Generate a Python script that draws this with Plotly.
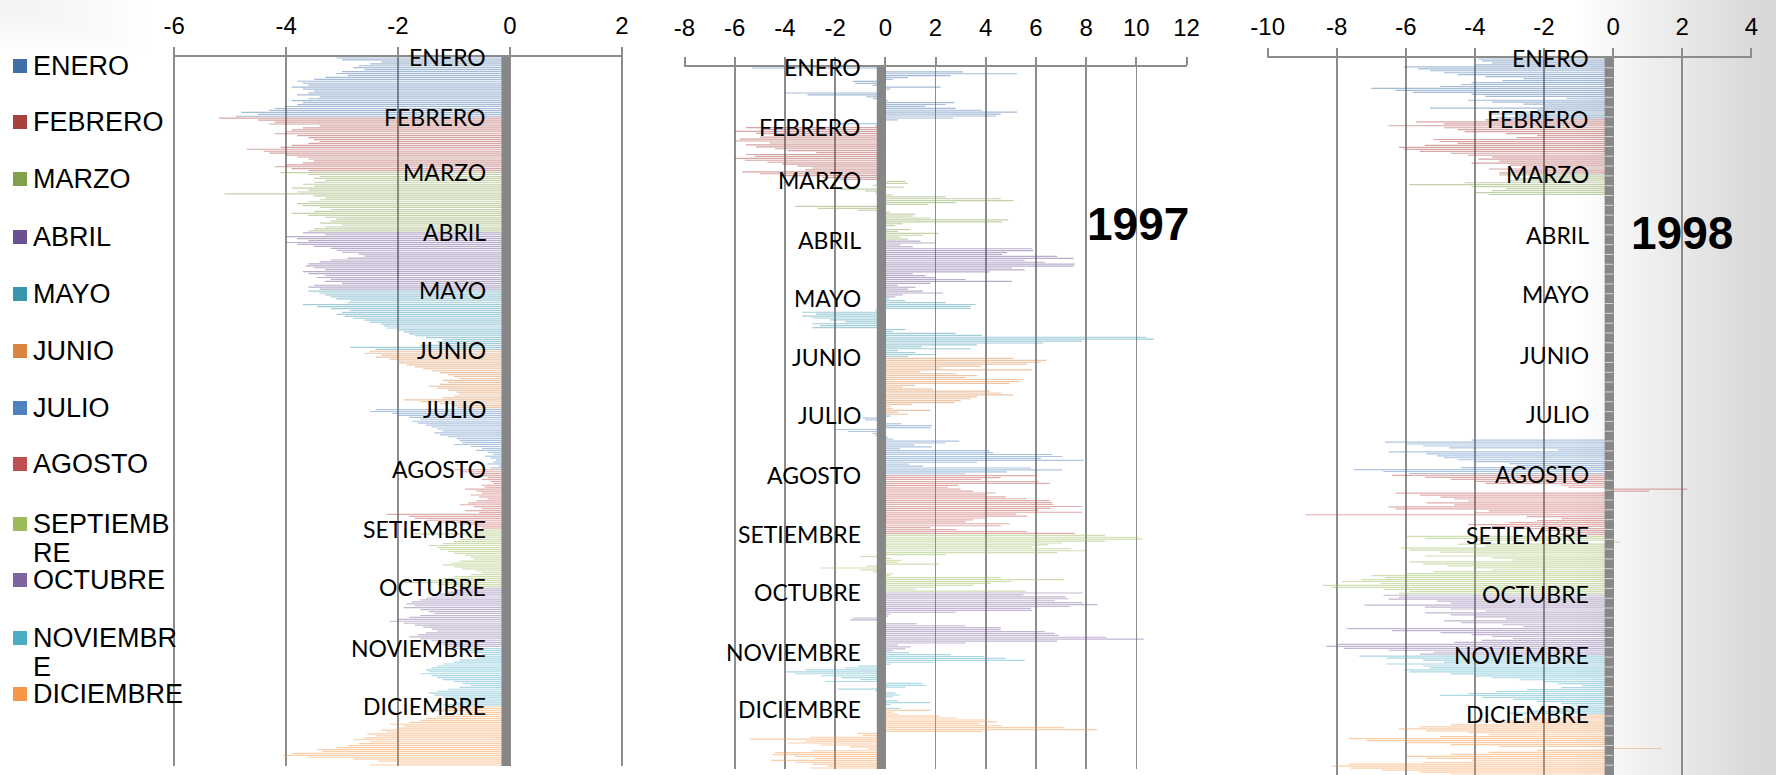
import plotly.graph_objects as go

# ---------------- DATA ----------------
MONTHS_AXIS = ["ENERO", "FEBRERO", "MARZO", "ABRIL", "MAYO", "JUNIO", "JULIO",
               "AGOSTO", "SETIEMBRE", "OCTUBRE", "NOVIEMBRE", "DICIEMBRE"]
MONTHS_LEGEND = ["ENERO", "FEBRERO", "MARZO", "ABRIL", "MAYO", "JUNIO", "JULIO",
                 "AGOSTO", "SEPTIEMBRE", "OCTUBRE", "NOVIEMBRE", "DICIEMBRE"]
MONTH_DAYS = [31, 28, 31, 30, 31, 30, 31, 31, 30, 31, 30, 31]
YEAR_LABELS = ["", "1997", "1998"]
TICKS_P1 = [-6, -4, -2, 0, 2]
TICKS_P2 = [-8, -6, -4, -2, 0, 2, 4, 6, 8, 10, 12]
TICKS_P3 = [-10, -8, -6, -4, -2, 0, 2, 4]

# Panel 1 (left)
p1_ene = [-3.1, -3.0, -2.3, -2.5, -2.7, -2.8, -2.6, -3.0, -3.1, -2.9, -3.3, -3.5, -3.8, -3.7, -3.6, -3.9, -3.7, -3.5, -3.6, -3.8, -3.4, -3.6, -3.9, -3.7, -3.8, -4.0, -4.2, -4.3, -4.8, -4.5, -4.9]
p1_feb = [-5.2, -4.5, -4.2, -4.3, -3.4, -3.7, -3.9, -4.0, -4.2, -3.8, -3.6, -3.5, -3.4, -3.6, -3.9, -4.1, -4.7, -4.4, -4.3, -4.0, -3.8, -3.6, -3.5, -3.7, -4.0, -4.2, -3.9, -3.6]
p1_mar = [-4.1, -3.6, -3.4, -3.5, -3.3, -3.5, -3.7, -3.5, -3.9, -3.6, -3.8, -5.1, -3.5, -3.3, -3.4, -3.6, -3.8, -3.7, -3.4, -3.2, -3.5, -3.9, -3.6, -3.3, -3.1, -3.2, -3.4, -3.0, -3.3, -3.5, -3.6]
p1_abr = [-3.7, -3.3, -4.0, -3.8, -3.6, -4.0, -3.8, -3.5, -3.2, -3.1, -3.0, -2.7, -2.6, -2.9, -3.2, -3.4, -3.6, -3.65, -3.5, -3.3, -3.7, -3.6, -3.3, -3.45, -3.2, -3.3, -3.0, -3.5, -3.6, -3.4]
p1_may = [-3.6, -3.4, -3.3, -3.2, -3.1, -2.85, -2.9, -3.7, -3.45, -3.2, -2.85, -3.0, -3.1, -2.95, -2.8, -2.6, -2.5, -2.3, -2.25, -2.2, -2.0, -1.9, -1.8, -1.7, -1.5, -1.2, -1.3, -1.25, -1.6, -2.85, -2.4]
p1_jun = [-2.5, -2.6, -2.3, -2.4, -2.15, -2.0, -2.0, -1.85, -1.7, -1.55, -1.4, -1.25, -1.1, -1.0, -0.9, -1.2, -1.1, -1.25, -1.45, -1.3, -1.1, -0.95, -0.9, -1.0, -1.2, -1.9, -1.6, -1.25, -1.0, -0.95]
p1_jul = [-2.4, -2.5, -2.1, -2.0, -1.8, -1.6, -1.75, -1.65, -1.5, -1.4, -1.3, -1.2, -1.35, -1.25, -1.1, -0.95, -0.9, -0.85, -1.0, -0.7, -0.5, -0.6, -0.4, -0.3, -0.45, -0.35, -0.25, -0.3, -0.4, -0.2, -0.35]
p1_ago = [-1.0, -0.85, -0.7, -0.6, -0.4, -0.5, -0.35, -0.3, -0.5, -0.45, -0.8, -0.6, -0.5, -0.7, -0.55, -0.4, -0.6, -0.75, -0.9, -0.65, -0.5, -0.8, -0.55, -2.2, -1.8, -1.7, -1.5, -1.3, -0.9, -0.6, -0.5]
p1_sep = [-0.5, -0.6, -1.7, -0.8, -0.7, -0.9, -1.0, -1.2, -1.45, -1.3, -1.25, -1.1, -1.0, -0.8, -0.7, -0.65, -0.9, -1.05, -1.2, -1.0, -0.85, -0.6, -0.5, -0.7, -1.0, -1.2, -1.7, -1.9, -1.3, -1.0]
p1_oct = [-0.9, -1.0, -1.1, -1.25, -1.4, -1.5, -1.6, -1.75, -1.85, -1.7, -1.9, -1.6, -1.45, -1.35, -1.6, -1.8, -2.0, -2.15, -1.9, -1.7, -1.55, -1.4, -1.3, -1.5, -1.65, -1.8, -1.6, -1.4, -1.3, -1.2, -1.1]
p1_nov = [-1.1, -0.85, -0.7, -0.5, -0.45, -0.6, -0.9, -1.0, -1.2, -1.3, -1.4, -1.5, -1.45, -1.6, -1.4, -1.3, -1.2, -1.0, -0.85, -0.7, -0.9, -1.1, -1.3, -1.45, -1.35, -1.2, -1.0, -0.9, -1.0, -1.2]
p1_dic = [-1.1, -1.2, -1.4, -0.8, -0.95, -1.3, -1.5, -1.6, -1.8, -2.15, -1.9, -2.0, -2.3, -2.2, -2.55, -2.4, -2.6, -2.8, -2.5, -2.7, -2.9, -3.1, -3.45, -3.35, -3.9, -4.05, -3.6, -2.8, -2.35, -2.0, -2.5]

# Panel 2 (1997)
p2_ene = [-5.3, -0.3, 3.1, 5.25, 2.6, 0.9, 0.3, -1.3, -1.2, -0.5, 2.2, 0.2, -0.2, -4.0, -3.1, -0.75, -0.5, 0.1, 2.75, 2.4, 1.6, 2.8, 3.85, 5.25, 4.6, 4.4, 2.7, 0.5, -0.2, -2.0, -0.4]
p2_feb = [-5.55, -4.85, -6.0, -5.15, -4.3, -5.0, -5.8, -6.0, -4.6, -5.55, -5.15, -4.4, -3.9, -2.75, -5.55, -5.2, -6.0, -5.6, -4.7, -4.1, -3.5, -2.9, -3.2, -5.7, -5.0, -4.2, -2.5, -1.8]
p2_mar = [0.8, 0.9, -0.5, 0.75, -1.8, -0.8, -0.4, 0.3, 2.4, 4.6, 5.1, 2.8, 1.7, -3.6, -2.7, -1.1, 0.2, 1.2, 1.1, 1.8, 4.9, 4.65, 0.7, 0.4, -0.3, 1.0, 0.5, 2.1, 1.5, 0.6, 0.9]
p2_abr = [1.4, 2.0, 0.6, 1.1, 5.85, 5.9, 4.85, 4.65, 6.85, 7.5, 5.55, 6.35, 7.55, 7.5, 5.05, 5.55, 4.15, 1.1, 1.6, 2.0, 3.2, 5.05, 1.8, 0.5, 1.2, 0.9, 1.5, 2.3, 0.7, 0.4]
p2_may = [0.15, 0.8, 2.4, 3.6, 3.4, 3.4, -0.4, -3.3, -2.75, -3.3, -2.9, -2.2, -1.6, -2.9, -2.6, -2.9, 0.8, 0.3, 2.8, 3.85, 10.4, 10.7, 7.85, 6.3, 3.65, 1.45, 3.4, 0.5, 1.2, 2.0, 0.9]
p2_jun = [5.1, 6.4, 6.2, 5.65, 3.8, 2.2, 5.85, 1.4, 2.85, 3.65, 3.2, 5.5, 5.35, 4.95, 1.2, 0.7, 1.9, 4.15, 4.6, 5.1, 3.65, 3.4, 3.0, 2.75, 1.05, 0.2, 0.3, 1.8, 0.5, 0.9]
p2_jul = [0.2, -0.9, -0.8, -0.2, 0.65, 1.85, 1.8, -2.0, -1.5, -0.5, -0.4, 0.1, 0.3, 2.95, 2.4, 1.15, 1.85, 0.6, 4.15, 4.3, 6.65, 7.05, 6.2, 7.9, 3.65, 0.95, 1.5, 5.8, 7.05, 4.85, 3.2]
p2_ago = [6.05, 4.6, 3.8, 6.1, 6.55, 2.9, 2.5, 3.0, 3.5, 4.4, 4.0, 4.8, 5.65, 6.55, 6.65, 6.7, 7.85, 6.6, 6.1, 7.85, 5.2, 5.65, 4.0, 3.5, 3.2, 4.95, 4.6, 1.8, 2.85, 5.65, 7.55]
p2_sep = [8.75, 10.1, 10.25, 8.75, 7.05, 6.5, 5.85, 7.4, 8.0, 6.85, 2.4, -1.0, 0.25, 0.65, 0.5, 2.15, -0.75, -2.55, -1.0, -0.5, 0.3, 0.2, 4.6, 7.1, 5.0, 4.2, 3.5, 2.0, 1.2, 5.6]
p2_oct = [7.85, 5.5, 7.2, 7.3, 6.75, 7.85, 8.45, 7.35, 5.8, 5.85, 2.8, 0.2, 0.1, -1.3, -1.4, -0.3, 1.25, 3.2, 4.6, 4.6, 6.35, 6.75, 6.9, 8.8, 10.3, 6.85, 3.2, 0.5, 1.0, 0.8, 0.3]
p2_nov = [0.95, 2.6, 3.95, 4.8, 5.55, 1.95, 0.2, -1.1, -1.6, -3.2, -3.95, -3.6, -2.55, -1.75, -1.0, -2.4, 1.45, 1.6, 0.8, -1.9, -0.4, 0.4, 0.6, 0.3, -0.2, 0.5, 1.8, 0.2, -0.3, 0.6]
p2_dic = [1.8, 0.3, 0.5, 2.15, 2.85, 4.05, 4.45, 3.75, 4.65, 7.1, 8.45, 3.85, -1.1, -0.9, -3.0, -5.4, -3.15, -3.9, -2.6, -1.4, -0.7, -2.9, -4.4, -4.5, -3.6, -2.8, -4.55, -3.6, -2.9, -2.3, -3.0]

# Panel 3 (1998)
p3_ene = [-3.9, -3.8, -3.5, -4.0, -6.05, -5.65, -5.3, -4.9, -4.5, -3.7, -2.6, -3.2, -4.1, -4.4, -5.0, -7.0, -6.3, -5.8, -4.1, -3.7, -1.35, -4.2, -3.5, -2.6, -2.0, -5.3, -2.2, -3.1, -3.6, -2.8, -3.4]
p3_feb = [-3.7, -5.7, -4.9, -6.5, -4.9, -4.5, -4.3, -3.1, -2.2, -2.8, -5.2, -5.0, -4.5, -5.45, -6.2, -6.05, -5.6, -4.7, -4.2, -3.5, -3.9, -3.3, -4.1, -3.0, -2.6, -3.6, -2.9, -3.3]
p3_mar = [-3.3, -2.2, -2.8, -3.0, -4.3, -5.9, -4.1, -3.1, -3.5, -4.0, -3.6]
p3_abr = []
p3_may = []
p3_jun = []
p3_jul = [None, None, None, None, None, None, None, None, None, None, None, None, None,
          -4.1, -6.6, -6.0, -5.5, -4.75, -1.6, -6.5, -5.4, -5.1, -4.9, -4.5, -4.0, -3.0, -2.8, -4.4, -7.5, -6.65, -5.9]
p3_ago = [-6.4, -5.45, -4.7, -4.0, -3.7, -1.5, -1.3, 2.15, 1.05, -6.3, -5.6, -5.0, -4.6, -4.2, -5.4, -4.6, -6.5, -6.3, -3.6, -4.0, -8.9, -2.5, -1.5, -2.2, -3.0, -4.2, -3.5, -2.8, -2.0, -1.2, -1.6]
p3_sep = [-6.0, -5.45, -4.0, 0.2, -4.5, -3.7, -6.15, -5.9, -5.0, -4.0, -5.45, -3.5, -2.9, -5.9, -5.5, -4.8, -4.0, -3.5, -5.2, -6.0, -7.0, -6.6, -7.3, -7.85, -6.75, -8.4, -8.15, -6.65, -5.9, -6.2]
p3_oct = [-6.65, -6.2, -6.5, -5.1, -4.7, -7.2, -5.45, -4.7, -3.7, -5.45, -4.7, -4.0, -3.1, -4.9, -4.4, -3.2, -2.6, -7.7, -6.4, -5.0, -4.1, -3.5, -2.9, -3.8, -4.6, -7.95, -8.3, -7.8, -6.5, -5.2, -5.6]
p3_nov = [-7.35, -6.55, -5.5, -4.9, -6.55, -5.5, -5.3, -6.05, -5.9, -4.7, -4.0, -3.5, -2.7, -2.0, -1.6, -0.9, -1.5, -2.5, -3.4, -4.2, -5.0, -3.8, -2.9, -2.2, -1.5, -1.2, -0.9, -1.6, -2.4, -3.0]
p3_dic = [-0.9, -1.5, -2.6, -3.9, -3.3, -4.7, -5.6, -6.2, -5.4, -4.2, -3.6, -5.0, -7.65, -7.15, -6.0, -4.7, -3.3, 1.4, -2.2, -3.6, -4.7, -6.0, -5.4, -4.1, -5.5, -7.65, -8.15, -7.6, -6.7, -5.6, -4.7]

PANEL1 = [p1_ene, p1_feb, p1_mar, p1_abr, p1_may, p1_jun, p1_jul, p1_ago, p1_sep, p1_oct, p1_nov, p1_dic]
PANEL2 = [p2_ene, p2_feb, p2_mar, p2_abr, p2_may, p2_jun, p2_jul, p2_ago, p2_sep, p2_oct, p2_nov, p2_dic]
PANEL3 = [p3_ene, p3_feb, p3_mar, p3_abr, p3_may, p3_jun, p3_jul, p3_ago, p3_sep, p3_oct, p3_nov, p3_dic]

# ---------------- STYLE ----------------
W, H = 1776, 775
LEGEND_COLORS = ["#3F6EA8", "#A8403D", "#80A04A", "#6A5090", "#3A95AE", "#D9843F",
                 "#4F81BD", "#C0504D", "#9BBB59", "#8064A2", "#4BACC6", "#F79646"]
BAR_ALPHA = 0.47
GRID = "#8c8c8c"
ARIAL = "Arial, Liberation Sans, sans-serif"
LABEL_FONT = "Lato, Open Sans, sans-serif"
EPS = 0.02


def rgba(hexc, a):
    h = hexc.lstrip("#")
    return "rgba(%d,%d,%d,%.2f)" % (int(h[0:2], 16), int(h[2:4], 16), int(h[4:6], 16), a)


month_start = []
acc = 0
for d in MONTH_DAYS:
    month_start.append(acc)
    acc += d

# panel geometry (pixels)
panels = [
    dict(data=PANEL1, ticks=TICKS_P1, px=(173, 623), py=(57, 766), standoff=3, axis_ticks=0),
    dict(data=PANEL2, ticks=TICKS_P2, px=(684, 1187), py=(67, 769), standoff=11, axis_ticks=0),
    dict(data=PANEL3, ticks=TICKS_P3, px=(1267, 1752), py=(58, 776), standoff=3, axis_ticks=5),
]

fig = go.Figure()
shapes = []
annotations = []

# subtle grey slide background: smooth fade at the right edge and top-left corner
N_FADE = 40
for i in range(N_FADE):
    w = 200 - i * 4.8
    shapes.append(dict(type="rect", xref="paper", yref="paper", x0=1 - w / W, x1=1,
                       y0=0, y1=1, fillcolor="rgba(0,0,0,0.0021)", line=dict(width=0), layer="below"))
for i in range(12):
    w = 150 - i * 11
    h = 55 - i * 4
    shapes.append(dict(type="rect", xref="paper", yref="paper", x0=0, x1=w / W,
                       y0=1 - h / H, y1=1, fillcolor="rgba(0,0,0,0.004)",
                       line=dict(width=0), layer="below"))

for k, p in enumerate(panels):
    sfx = "" if k == 0 else str(k + 1)
    xa, ya = "x" + sfx, "y" + sfx
    for m, vals in enumerate(p["data"]):
        ys, xs = [], []
        for i, v in enumerate(vals):
            if v is None:
                continue
            ys.append(month_start[m] + i + 0.5)
            xs.append(v)
        fig.add_trace(go.Bar(
            x=xs, y=ys, orientation="h", width=0.6, xaxis=xa, yaxis=ya,
            marker=dict(color=rgba(LEGEND_COLORS[m], BAR_ALPHA), line=dict(width=0)),
            showlegend=False, hoverinfo="x+y"))

    tv = p["ticks"]
    x0, x1 = p["px"][0] / W, p["px"][1] / W
    y0, y1 = 1 - p["py"][1] / H, 1 - p["py"][0] / H
    y0 = max(0.0, y0)
    fig.update_layout(**{
        "xaxis" + sfx: dict(
            domain=[x0, x1], range=[tv[0] - EPS, tv[-1] + EPS], side="top", anchor=ya,
            tickmode="array", tickvals=tv, ticktext=[str(t) for t in tv],
            showgrid=True, gridcolor=GRID, gridwidth=1.6, zeroline=False,
            showline=True, linecolor=GRID, linewidth=2, ticks="outside", ticklen=8,
            tickcolor=GRID, tickwidth=2, ticklabelstandoff=p["standoff"], automargin=False,
            tickfont=dict(family=ARIAL, size=24, color="black"), fixedrange=True),
        "yaxis" + sfx: dict(
            domain=[y0, y1], range=[365, 0], anchor=xa, showgrid=False, zeroline=False,
            showticklabels=False, showline=False, ticks="", fixedrange=True, automargin=False),
    })
    # thick gray category axis at zero
    shapes.append(dict(type="rect", xref=xa, yref=ya + " domain", xsizemode="pixel",
                       xanchor=0, x0=-8.5, x1=0, y0=0, y1=1,
                       fillcolor="#878787", line=dict(width=0), layer="above"))
    # light tick marks on the category axis
    if p["axis_ticks"]:
        for d in range(p["axis_ticks"], 365, p["axis_ticks"]):
            shapes.append(dict(type="line", xref=xa, yref=ya, xsizemode="pixel", xanchor=0,
                               x0=-8.5, x1=0, y0=d, y1=d,
                               line=dict(color="rgba(220,220,220,0.9)", width=1), layer="above"))
    # month labels on the category axis
    for m, name in enumerate(MONTHS_AXIS):
        annotations.append(dict(
            x=0, y=month_start[m], xref=xa, yref=ya, text=name, showarrow=False,
            xanchor="right", yanchor="middle", xshift=-22,
            font=dict(family=LABEL_FONT, size=23, color="black")))

# year labels
annotations.append(dict(x=1138 / W, y=1 - 224 / H, xref="paper", yref="paper", text=YEAR_LABELS[1],
                        showarrow=False, xanchor="center", yanchor="middle",
                        font=dict(family=ARIAL, size=46, color="black", weight="bold")))
annotations.append(dict(x=1682 / W, y=1 - 233 / H, xref="paper", yref="paper", text=YEAR_LABELS[2],
                        showarrow=False, xanchor="center", yanchor="middle",
                        font=dict(family=ARIAL, size=46, color="black", weight="bold")))

# legend (manual, left side)
legend_rows = [
    (66, ["ENERO"]), (122, ["FEBRERO"]), (179, ["MARZO"]), (237, ["ABRIL"]),
    (294, ["MAYO"]), (351, ["JUNIO"]), (408, ["JULIO"]), (464, ["AGOSTO"]),
    (524, ["SEPTIEMB", "RE"]), (580, ["OCTUBRE"]), (638, ["NOVIEMBR", "E"]), (694, ["DICIEMBRE"]),
]
for m, (yc, lines) in enumerate(legend_rows):
    shapes.append(dict(type="rect", xref="paper", yref="paper",
                       x0=13 / W, x1=27 / W, y0=1 - (yc + 7) / H, y1=1 - (yc - 7) / H,
                       fillcolor=LEGEND_COLORS[m], line=dict(width=0)))
    for j, t in enumerate(lines):
        annotations.append(dict(x=31 / W, y=1 - (yc + 29 * j) / H, xref="paper", yref="paper",
                                text=t, showarrow=False, xanchor="left", yanchor="middle",
                                font=dict(family=ARIAL, size=27, color="black")))

fig.update_layout(
    width=W, height=H, autosize=False,
    margin=dict(l=0, r=0, t=0, b=0, autoexpand=False),
    paper_bgcolor="white", plot_bgcolor="rgba(0,0,0,0)",
    barmode="overlay", showlegend=False, hovermode=False,
    shapes=shapes, annotations=annotations,
)

fig.write_html("out.html", config={"displayModeBar": False, "staticPlot": True},
               post_script="document.body.style.margin='0px';")
